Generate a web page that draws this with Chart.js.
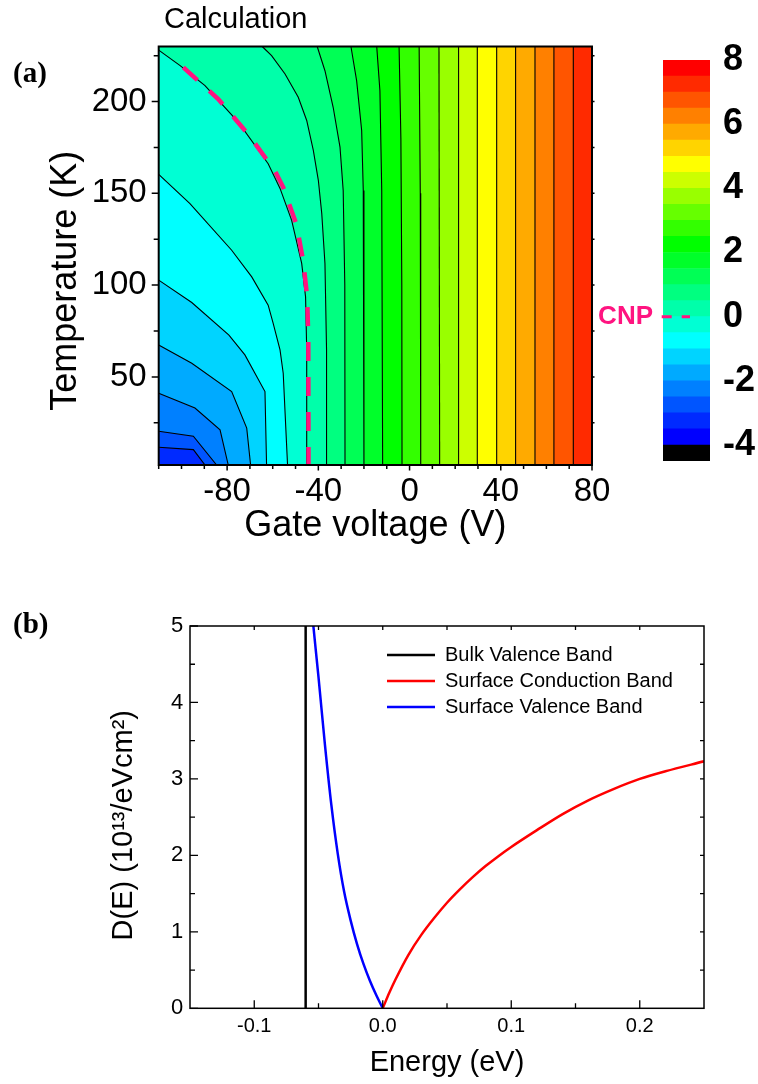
<!DOCTYPE html>
<html>
<head>
<meta charset="utf-8">
<title>Calculation and D(E)</title>
<script src="https://cdn.jsdelivr.net/npm/chart.js@4.4.1/dist/chart.umd.min.js"></script>
<style>
  html, body { margin: 0; padding: 0; background: #fff; }
  body { position: relative; width: 758px; height: 1084px; overflow: hidden; }
  .pane { position: absolute; }
  .tag { position: absolute; left: 13px; font: bold 29px/29px 'Liberation Serif', serif; color: #000; }
  #calc { position: absolute; left: 164px; top: 4px; font: 29px/29px 'Liberation Sans', sans-serif; color: #000; }
</style>
</head>
<body>
<div class="pane" style="left:0;top:0;width:758px;height:560px"><canvas id="mapChart"></canvas></div>
<div class="pane" style="left:560px;top:0;width:198px;height:560px"><canvas id="barChart"></canvas></div>
<div class="pane" style="left:0;top:560px;width:758px;height:524px"><canvas id="dosChart"></canvas></div>
<div id="calc">Calculation</div>
<div class="tag" style="top:58px">(a)</div>
<div class="tag" style="top:609px">(b)</div>
<script>
Chart.defaults.font.family = "'Liberation Sans', Arial, sans-serif";
Chart.defaults.color = '#000';

// ---- panel (a): contour map, gate voltage vs temperature ----
const voltRange = [-110, 80];
const tempRange = [2, 230];
const voltTicks = [-80, -40, 0, 40, 80];
const voltMinor = [-110, -100, -90, -70, -60, -50, -30, -20, -10, 10, 20, 30, 50, 60, 70];
const tempTicks = [50, 100, 150, 200];
const tempMinor = [25, 75, 125, 175, 225];
const tempRight = [25, 50, 75, 100, 125, 150, 175, 200, 225];

// contour lines, each read from top/left edge down to the bottom edge
const contourLevels = [-3, -2.5, -2, -1.5, -1, -0.5, 0, 0.5, 1, 1.5, 2, 2.5, 3, 3.5, 4, 4.5, 5, 5.5, 6, 6.5, 7];
const contourV = [
  [-110, -94.8, -89.7],
  [-110, -94.8, -84.6],
  [-110, -94.1, -83.1, -79.5],
  [-110, -95.5, -78.0, -71.4, -69.7],
  [-110, -95.5, -79.2, -72.2, -63.4, -62.7],
  [-110, -96.3, -78.0, -69.2, -62.0, -59.8, -56.8, -55.4, -53.5],
  [-110, -100.6, -89.7, -75.1, -62.0, -56.8, -51.7, -47.3, -45.6, -45.1, -45.1],
  [-64.6, -60.5, -54.6, -48.8, -45.1, -42.2, -40.0, -38.5, -37.1, -36.4, -36.4],
  [-40.5, -37.1, -33.5, -30.5, -29.1, -28.4, -28.3],
  [-25.7, -23.2, -21.0, -20.3, -20.0],
  [-14.4, -13.0, -12.2, -11.8],
  [-4.6, -3.8, -3.4, -3.3],
  [4.2, 4.7, 4.9],
  [12.9, 13.2],
  [21.5, 21.5],
  [29.7, 29.7],
  [38.2, 38.2],
  [46.5, 46.5],
  [55.0, 55.0],
  [63.3, 63.3],
  [71.8, 71.8]
];
const contourT = [
  [11.7, 10.4, 2],
  [20.4, 17.7, 2],
  [41.1, 33, 21.2, 2],
  [67.4, 57.4, 42, 22.1, 2],
  [102.7, 90.5, 72.8, 62, 42, 2],
  [160.3, 144.4, 119, 104.5, 89.1, 79.2, 64.7, 52, 2],
  [228, 219.6, 208.7, 188.8, 166.1, 152.7, 135.3, 111.8, 93.6, 64.7, 2],
  [230, 225, 215, 202.3, 189.7, 173.4, 157.1, 139, 111.8, 64.7, 2],
  [230, 216.8, 196.9, 175.2, 151.6, 100, 2],
  [230, 211.3, 184.2, 151.6, 2],
  [230, 205.9, 151.6, 2],
  [230, 180, 100, 2],
  [230, 150, 2],
  [230, 2],
  [230, 2],
  [230, 2],
  [230, 2],
  [230, 2],
  [230, 2],
  [230, 2],
  [230, 2]
];

// charge neutrality point (dashed)
const cnpV = [-99.2, -83.9, -70.3, -59.0, -55.4, -49.5, -46.6, -44.9, -44.4, -44.3];
const cnpT = [218.6, 201.4, 181.5, 162.1, 153.3, 132.6, 112.7, 93.6, 71.2, 2];
const CNP_PINK = '#FF1480';

// colour scale: band edges and band colours (bottom to top)
const colorEdges = [-4.5, -4, -3.5, -3, -2.5, -2, -1.5, -1, -0.5, 0, 0.5, 1, 1.5, 2, 2.5, 3, 3.5, 4, 4.5, 5, 5.5, 6, 6.5, 7, 7.5, 8];
const bandColors = ['#000000', '#0000FF', '#002AFF', '#0055FF', '#0080FF', '#00AAFF', '#00D4FF', '#00FFFF',
  '#00FFD4', '#00FFAA', '#00FF80', '#00FF55', '#00FF2A', '#00FF00', '#33FF00', '#66FF00', '#99FF00',
  '#CCFF00', '#FFFF00', '#FFD400', '#FFAA00', '#FF8000', '#FF5500', '#FF2A00', '#FF0000'];
const colorTicks = [-4, -2, 0, 2, 4, 6, 8];

// ---- panel (b): density of states ----
const energyTicks = [-0.1, 0, 0.1, 0.2];
const energyMinor = [-0.05, 0.05, 0.15];
const energyTop = [-0.1, -0.05, 0, 0.05, 0.1, 0.15, 0.2];
const dosTicks = [0, 1, 2, 3, 4, 5];
const dosMinor = [0.5, 1.5, 2.5, 3.5, 4.5];
const dosRight = [0.5, 1, 1.5, 2, 2.5, 3, 3.5, 4, 4.5];

const bulkE = [-0.06, -0.06];
const bulkD = [0, 5];
const condE = [0, 0.005, 0.01, 0.02, 0.03, 0.04, 0.05, 0.06, 0.07, 0.08, 0.09, 0.1, 0.12, 0.14, 0.16, 0.18, 0.2, 0.22, 0.25];
const condD = [0, 0.2, 0.38, 0.7, 0.96, 1.18, 1.38, 1.555, 1.715, 1.86, 1.99, 2.11, 2.33, 2.54, 2.72, 2.87, 3.0, 3.1, 3.23];
const valE = [-0.056, -0.054, -0.05, -0.045, -0.04, -0.035, -0.03, -0.025, -0.02, -0.015, -0.01, -0.005, 0];
const valD = [5.35, 5.0, 4.33, 3.45, 2.66, 2.02, 1.52, 1.15, 0.84, 0.58, 0.36, 0.17, 0];

const xy = (xs, ys) => xs.map((x, i) => ({x: x, y: ys[i]}));
const fixTicks = (vals) => (axis) => { axis.ticks = vals.map(v => ({value: v})); };

// frame round the plot area plus tick marks (len > 0 outward, < 0 inward)
const makeFrame = (marks, frameWidth, tickWidth) => ({
  id: 'frameTicks',
  afterDatasetsDraw(chart) {
    const {ctx, chartArea: a, scales} = chart;
    ctx.save();
    ctx.strokeStyle = '#000';
    ctx.lineWidth = tickWidth;
    marks.forEach(m => {
      const sc = scales[m.axis];
      ctx.beginPath();
      m.values.forEach(v => {
        const p = sc.getPixelForValue(v);
        if (m.side === 'bottom') { ctx.moveTo(p, a.bottom); ctx.lineTo(p, a.bottom + m.len); }
        else if (m.side === 'top') { ctx.moveTo(p, a.top); ctx.lineTo(p, a.top - m.len); }
        else if (m.side === 'left') { ctx.moveTo(a.left, p); ctx.lineTo(a.left - m.len, p); }
        else { ctx.moveTo(a.right, p); ctx.lineTo(a.right + m.len, p); }
      });
      ctx.stroke();
    });
    ctx.lineWidth = frameWidth;
    ctx.strokeRect(a.left, a.top, a.width, a.height);
    ctx.restore();
  }
});

// ---- chart (a) ----
const topColor = bandColors[colorEdges.indexOf(contourLevels[contourLevels.length - 1])];
const areaFill = {
  id: 'areaFill',
  beforeDatasetsDraw(chart) {
    const {ctx, chartArea: a} = chart;
    ctx.save();
    ctx.fillStyle = topColor;
    ctx.fillRect(a.left, a.top, a.width, a.height);
    ctx.restore();
  }
};

const mapSets = [];
contourLevels.forEach((lv, i) => {
  const pts = xy(contourV[i], contourT[i]);
  // region of lower values: close the line through the lower-left corner
  const shape = pts.concat([{x: voltRange[0], y: tempRange[0]}]);
  if (contourT[i][0] >= tempRange[1]) shape.push({x: voltRange[0], y: tempRange[1]});
  mapSets.push({
    data: shape, fill: 'shape', borderWidth: 0, borderColor: 'rgba(0,0,0,0)',
    backgroundColor: bandColors[colorEdges.indexOf(lv) - 1], order: 100 + i
  });
  mapSets.push({data: pts, borderColor: '#000', borderWidth: 1.1, fill: false, order: 1});
});
mapSets.push({
  data: xy(cnpV, cnpT), borderColor: CNP_PINK, borderWidth: 4.5,
  borderDash: [19, 16], fill: false, order: 0
});

new Chart(document.getElementById('mapChart'), {
  type: 'line',
  data: {datasets: mapSets},
  options: {
    animation: false,
    responsive: true,
    maintainAspectRatio: false,
    events: [],
    layout: {padding: {left: 0, top: 46.5, right: 166, bottom: 0}},
    elements: {point: {radius: 0, hoverRadius: 0}, line: {tension: 0}},
    plugins: {legend: {display: false}, tooltip: {enabled: false}},
    scales: {
      x: {
        type: 'linear', min: voltRange[0], max: voltRange[1],
        afterBuildTicks: fixTicks(voltTicks),
        afterFit: s => { s.height = 95; },
        grid: {display: false, drawTicks: false},
        border: {display: false},
        ticks: {font: {size: 33}, padding: 7.5, maxRotation: 0, autoSkip: false},
        title: {display: true, text: 'Gate voltage (V)', font: {size: 36}, padding: {top: 0, bottom: 12}}
      },
      y: {
        type: 'linear', min: tempRange[0], max: tempRange[1],
        afterBuildTicks: fixTicks(tempTicks),
        afterFit: s => { s.width = 158.7; },
        grid: {display: false, drawTicks: false},
        border: {display: false},
        ticks: {font: {size: 33}, padding: 12, autoSkip: false},
        title: {display: true, text: 'Temperature (K)     ', font: {size: 36}, padding: {top: 44, bottom: 0}}
      }
    }
  },
  plugins: [areaFill, makeFrame([
    {axis: 'x', side: 'bottom', values: voltTicks, len: 5.5},
    {axis: 'x', side: 'bottom', values: voltMinor, len: 4},
    {axis: 'y', side: 'left', values: tempTicks, len: 7},
    {axis: 'y', side: 'left', values: tempMinor, len: 5},
    {axis: 'y', side: 'right', values: tempRight, len: 2.5}
  ], 2, 1.5)]
});

// ---- colour bar ----
const cnpMark = {
  id: 'cnpMark',
  afterDatasetsDraw(chart) {
    const {ctx, chartArea: a} = chart;
    const y = chart.scales.y.getPixelForValue(0);
    ctx.save();
    ctx.fillStyle = CNP_PINK;
    ctx.font = "bold 26px 'Liberation Sans'";
    ctx.textAlign = 'right';
    ctx.textBaseline = 'middle';
    ctx.fillText('CNP', a.left - 10, y);
    ctx.strokeStyle = CNP_PINK;
    ctx.lineWidth = 3;
    ctx.setLineDash([10, 10]);
    ctx.beginPath();
    ctx.moveTo(a.left - 1.3, y);
    ctx.lineTo(a.left + 27, y);
    ctx.stroke();
    ctx.restore();
  }
};

new Chart(document.getElementById('barChart'), {
  type: 'bar',
  data: {
    labels: [''],
    datasets: bandColors.map((c, i) => ({
      data: [[colorEdges[i], colorEdges[i + 1]]],
      backgroundColor: c, borderWidth: 0,
      barPercentage: 1, categoryPercentage: 1, grouped: false
    }))
  },
  options: {
    animation: false,
    responsive: true,
    maintainAspectRatio: false,
    events: [],
    layout: {padding: {left: 103, top: 60, right: 0, bottom: 99}},
    plugins: {legend: {display: false}, tooltip: {enabled: false}},
    scales: {
      x: {display: false},
      y: {
        position: 'right', min: colorEdges[0], max: colorEdges[colorEdges.length - 1],
        afterBuildTicks: fixTicks(colorTicks),
        afterFit: s => { s.width = 48; },
        grid: {display: false, drawTicks: false},
        border: {display: false},
        ticks: {font: {size: 36, weight: 'bold'}, padding: 13, autoSkip: false}
      }
    }
  },
  plugins: [cnpMark]
});

// ---- chart (b) ----
const legendPlace = (dx, dy) => ({
  id: 'legendPlace',
  afterLayout(chart) {
    const L = chart.legend;
    L.left = chart.chartArea.left + dx;
    L.top = chart.chartArea.top + dy;
    L.right = L.left + L.width;
    L.bottom = L.top + L.height;
  }
});

new Chart(document.getElementById('dosChart'), {
  type: 'line',
  data: {
    datasets: [
      {label: 'Bulk Valence Band', data: xy(bulkE, bulkD), borderColor: '#000', borderWidth: 2.5},
      {label: 'Surface Conduction Band', data: xy(condE, condD), borderColor: '#FF0000', borderWidth: 2.5,
        cubicInterpolationMode: 'monotone'},
      {label: 'Surface Valence Band', data: xy(valE, valD), borderColor: '#0000FF', borderWidth: 2.5,
        cubicInterpolationMode: 'monotone'}
    ]
  },
  options: {
    animation: false,
    responsive: true,
    maintainAspectRatio: false,
    events: [],
    layout: {padding: {left: 0, top: 66, right: 54, bottom: 0}},
    elements: {point: {radius: 0, hoverRadius: 0}},
    plugins: {
      tooltip: {enabled: false},
      legend: {
        position: 'chartArea', align: 'start',
        labels: {usePointStyle: true, pointStyle: 'line', pointStyleWidth: 48, boxHeight: 20,
          font: {size: 20}, padding: 6}
      }
    },
    scales: {
      x: {
        type: 'linear', min: -0.15, max: 0.25,
        afterBuildTicks: fixTicks(energyTicks),
        afterFit: s => { s.height = 75.7; },
        grid: {display: false, drawTicks: false},
        border: {display: false},
        ticks: {font: {size: 20}, padding: 5.7, maxRotation: 0, autoSkip: false, callback: v => v.toFixed(1)},
        title: {display: true, text: 'Energy (eV)', font: {size: 29}, padding: {top: 0, bottom: 3.6}}
      },
      y: {
        type: 'linear', min: 0, max: 5,
        afterBuildTicks: fixTicks(dosTicks),
        afterFit: s => { s.width = 190; },
        grid: {display: false, drawTicks: false},
        border: {display: false},
        ticks: {font: {size: 22}, padding: 6.7, autoSkip: false},
        title: {display: true, text: 'D(E) (10\u00B9\u00B3/eVcm\u00B2)  ', font: {size: 29}, padding: {top: 106.6, bottom: 0}}
      }
    }
  },
  plugins: [legendPlace(191, 13), makeFrame([
    {axis: 'x', side: 'bottom', values: energyTicks, len: -8},
    {axis: 'x', side: 'bottom', values: energyMinor, len: -5},
    {axis: 'x', side: 'top', values: energyTop, len: -4},
    {axis: 'y', side: 'left', values: dosTicks, len: -8},
    {axis: 'y', side: 'left', values: dosMinor, len: -5},
    {axis: 'y', side: 'right', values: dosRight, len: -4}
  ], 1.5, 1.3)]
});
</script>
</body>
</html>
